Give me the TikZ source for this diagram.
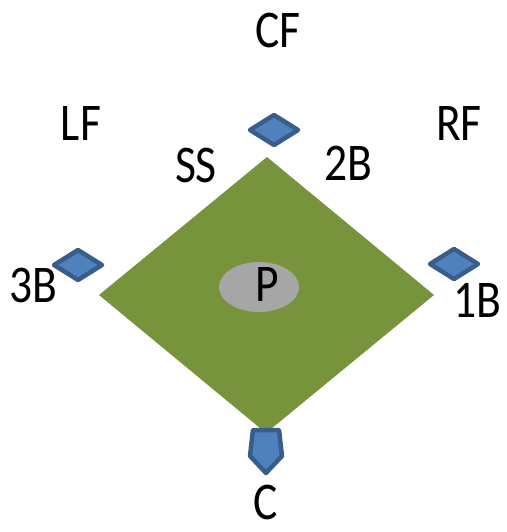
\documentclass[tikz,border=0pt]{standalone}
\usepackage{fontspec}
\setmainfont{Carlito}[FakeStretch=0.86]
\usetikzlibrary{shapes.geometric}

\definecolor{fieldgreen}{HTML}{77933C}
\definecolor{basefill}{HTML}{4F81BD}
\definecolor{baseedge}{HTML}{385D8A}
\definecolor{moundgray}{HTML}{A6A6A6}

\begin{document}
\begin{tikzpicture}[x=1pt,y=-1pt]

        \useasboundingbox (0,0) rectangle (506,532);

        \begin{scope}[every node/.style={inner sep=0pt, font=\fontsize{53}{60}\selectfont},
                      base/.style={fill=basefill, draw=baseedge, line width=4.5pt, line join=round}]

            % infield
            \coordinate (top) at (267,157);
            \coordinate (right) at (434,295);
            \coordinate (bottom) at (266,433);
            \coordinate (left) at (99,295);
            \fill [fieldgreen] (top) -- (right) -- (bottom) -- (left) -- cycle;

            % mound
            \node [ellipse, fill=moundgray, minimum width=80pt, minimum height=50pt] (mound) at (259,287) {};
            \node (P) at (267,284) {P};

            % bases
            \draw [base] (250,130) -- (274,115) -- (298,130) -- (274,145) -- cycle;
            \draw [base] (54,265) -- (78,250) -- (102,265) -- (78,280) -- cycle;
            \draw [base] (430,264) -- (454,249) -- (478,264) -- (454,279) -- cycle;
            \draw [base] (253,430) -- (279,430) -- (282,456) -- (266,473) -- (250,456) -- cycle;

            % outfield
            \node (CF) at (278,30) {CF};
            \node (LF) at (81,123) {LF};
            \node (RF) at (459,123) {RF};

            % infield players
            \node (SS) at (196,165) {SS};
            \node (2B) at (348,163) {2B};
            \node (3B) at (33,285) {3B};
            \node (1B) at (477,300) {1B};
            \node (C) at (266,502) {C};

        \end{scope}

    \end{tikzpicture}
\end{document}
